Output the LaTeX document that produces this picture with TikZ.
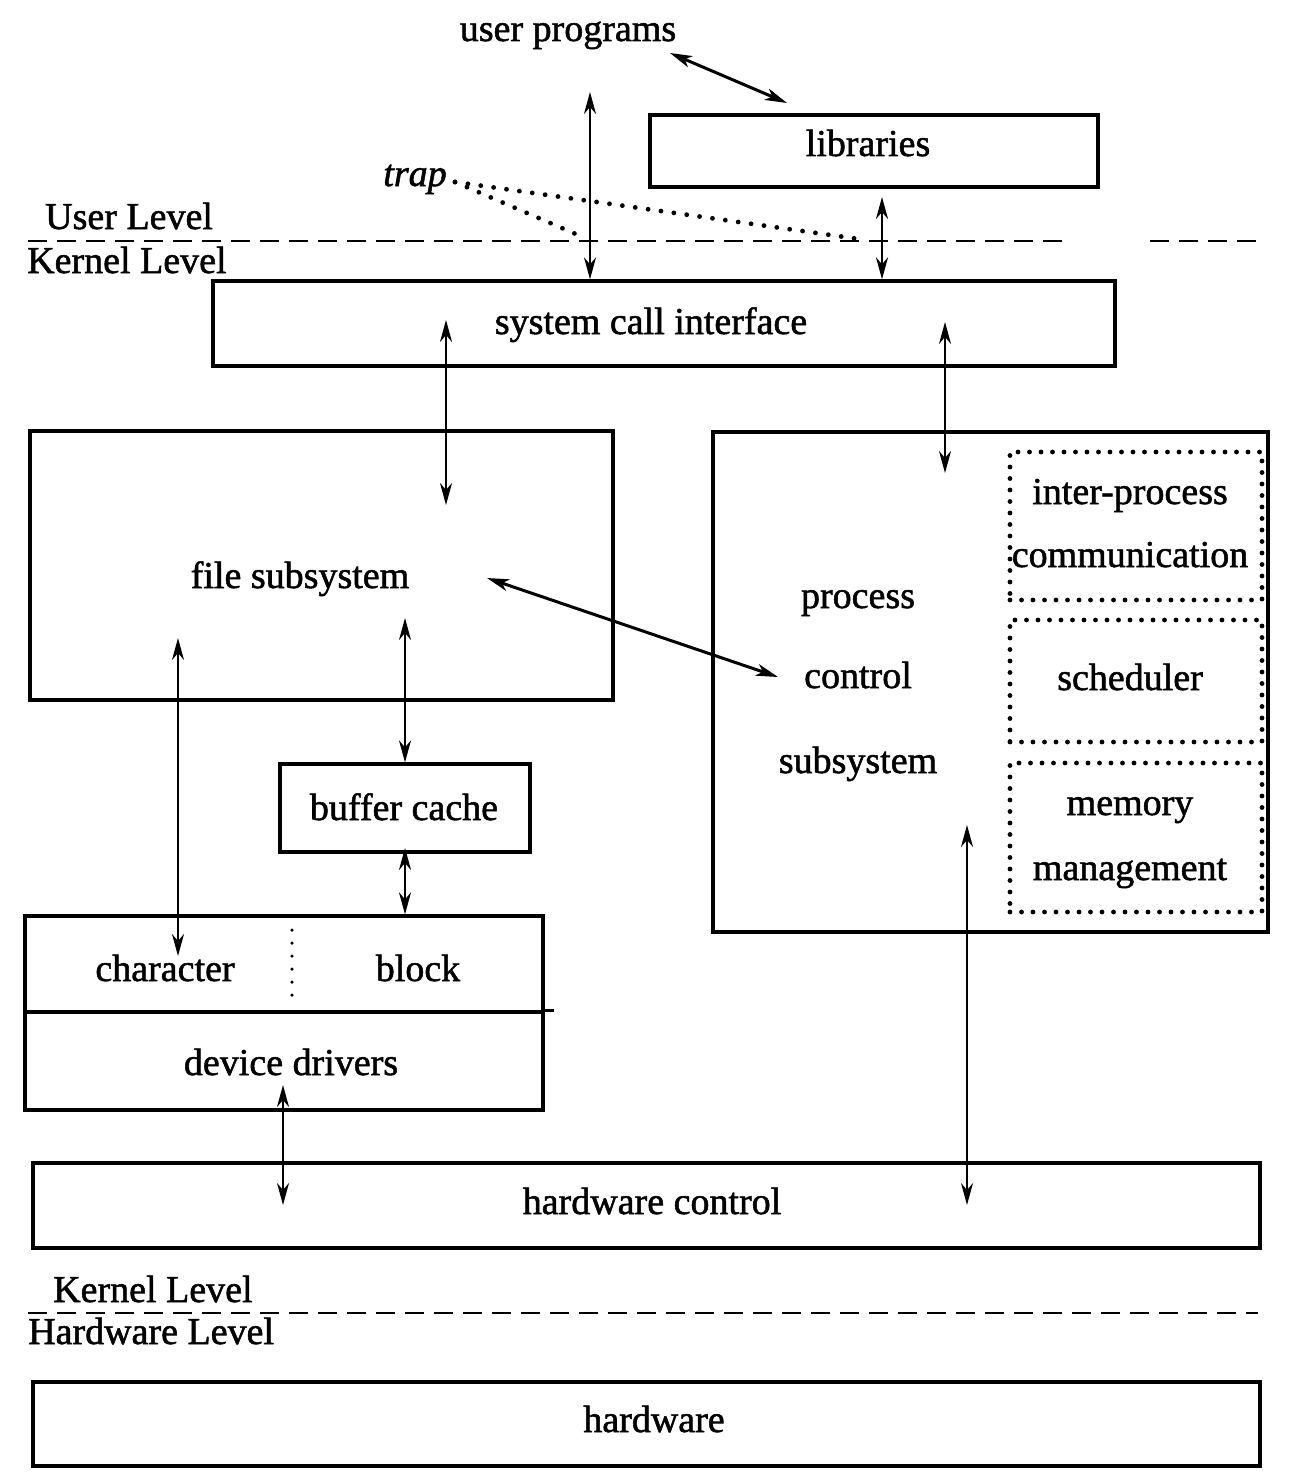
\documentclass[tikz,border=0pt]{standalone}
\usepackage{fontspec}
\setmainfont{Liberation Serif}[FakeBold=1.4]
\usetikzlibrary{arrows.meta}
\begin{document}
\begin{tikzpicture}[x=1pt,y=-1pt,
 box/.style={draw, line width=3.3pt, inner sep=0pt},
 lbl/.style={font=\fontsize{38}{46}\selectfont, inner sep=0pt, anchor=base},
 dar/.style={{Stealth[length=22pt,width=12pt,inset=7pt]}-{Stealth[length=22pt,width=12pt,inset=7pt]}, line width=2pt},
 thk/.style={{Stealth[length=22pt,width=12pt,inset=6pt]}-{Stealth[length=22pt,width=12pt,inset=6pt]}, line width=3pt},
 dotbox/.style={draw, line width=4.8pt, line cap=round, dash pattern=on 0pt off 11.5pt, inner sep=0pt},
 dotline/.style={line width=4.8pt, line cap=round, dash pattern=on 0pt off 13pt},
 dashline/.style={line width=2.6pt, dash pattern=on 19pt off 10pt}]
\useasboundingbox (0,0) rectangle (1292,1482);

% boxes
\node[box, minimum width=448pt, minimum height=72pt] (lib) at (874,151) {};
\node[box, minimum width=902pt, minimum height=85pt] (sci) at (664,323.5) {};
\node[box, minimum width=583pt, minimum height=269pt] (fs) at (321.5,565.5) {};
\node[box, minimum width=555pt, minimum height=500pt] (pcs) at (990.5,682) {};
\node[dotbox, minimum width=252pt, minimum height=148pt] (ipc) at (1136,526) {};
\node[dotbox, minimum width=252pt, minimum height=122pt] (sch) at (1136,681) {};
\node[dotbox, minimum width=252pt, minimum height=149pt] (mem) at (1136,837.5) {};
\node[box, minimum width=250pt, minimum height=88pt] (bc) at (405,808) {};
\node[box, minimum width=518pt, minimum height=96pt] (cb) at (284,964) {};
\node[box, minimum width=518pt, minimum height=98pt] (dd) at (284,1061) {};
\node[box, minimum width=1227pt, minimum height=85pt] (hwc) at (646.5,1205.5) {};
\node[box, minimum width=1227pt, minimum height=84pt] (hw) at (646.5,1424) {};
\draw[line width=3.3pt] (dd.north east) -- ++(9,0);
\draw[dotline, line width=3.5pt] (292,930) -- (292,1000);

% labels (anchored at baseline)
\node[lbl] (upt) at (568,41) {user programs};
\node[lbl] (libt) at (868,156) {libraries};
\node[lbl, font=\fontsize{38}{46}\selectfont\itshape] (trapt) at (415,186) {trap};
\node[lbl, anchor=base west] (ul) at (45,229) {User Level};
\node[lbl, anchor=base west] (kl) at (27,273) {Kernel Level};
\node[lbl] (scit) at (651,334) {system call interface};
\node[lbl] (fst) at (300,588) {file subsystem};
\node[lbl] (p1) at (858,608) {process};
\node[lbl] (p2) at (858,688) {control};
\node[lbl] (p3) at (858,773) {subsystem};
\node[lbl] (i1) at (1130,504) {inter-process};
\node[lbl] (i2) at (1130,567) {communication};
\node[lbl] (scht) at (1130,690) {scheduler};
\node[lbl] (m1) at (1130,815) {memory};
\node[lbl] (m2) at (1130,880) {management};
\node[lbl] (bct) at (404,820) {buffer cache};
\node[lbl] (cht) at (165,981) {character};
\node[lbl] (blt) at (418,981) {block};
\node[lbl] (ddt) at (291,1075) {device drivers};
\node[lbl] (hwct) at (652,1214) {hardware control};
\node[lbl, anchor=base west] (kl2) at (53,1302) {Kernel Level};
\node[lbl, anchor=base west] (hl) at (28,1344) {Hardware Level};
\node[lbl] (hwt) at (654,1432) {hardware};

% level lines
\draw[dashline] (28,241) -- (1070,241);
\draw[dashline] (1150,241) -- (1258,241);
\draw[dashline] (28,1313) -- (1258,1313);

% trap dotted lines
\coordinate (trapA) at (455,182);
\coordinate (trapB) at (585,238);
\coordinate (trapC) at (866,240);
\draw[dotline] (trapA) -- (trapB);
\draw[dotline] (trapA) -- (trapC);

% connectors
\coordinate (upA) at (670,53);
\coordinate (libA) at (787,103);
\draw[thk] (upA) -- (libA);
\coordinate (uA) at (590,92);
\draw[dar] (uA) -- (uA |- sci.north);
\coordinate (lA) at (882,197);
\draw[dar, line width=2.8pt] (lA) -- (lA |- sci.north);
\coordinate (s1) at (446,320);
\coordinate (s1b) at (446,505);
\draw[dar] (s1) -- (s1b);
\coordinate (s2) at (945,322);
\coordinate (s2b) at (945,473);
\draw[dar] (s2) -- (s2b);
\coordinate (fpA) at (487,578);
\coordinate (fpB) at (778,677);
\draw[thk] (fpA) -- (fpB);
\coordinate (fc) at (178,638);
\coordinate (fcb) at (178,956);
\draw[dar] (fc) -- (fcb);
\coordinate (fb) at (405,618);
\draw[dar] (fb) -- (fb |- bc.north);
\coordinate (bb) at (405,848);
\draw[dar, line width=2.8pt] (bb) -- (bb |- cb.north);
\coordinate (dh) at (283,1085);
\coordinate (dhb) at (283,1205);
\draw[dar] (dh) -- (dhb);
\coordinate (ph) at (967,825);
\coordinate (phb) at (967,1205);
\draw[dar] (ph) -- (phb);
\end{tikzpicture}
\end{document}
